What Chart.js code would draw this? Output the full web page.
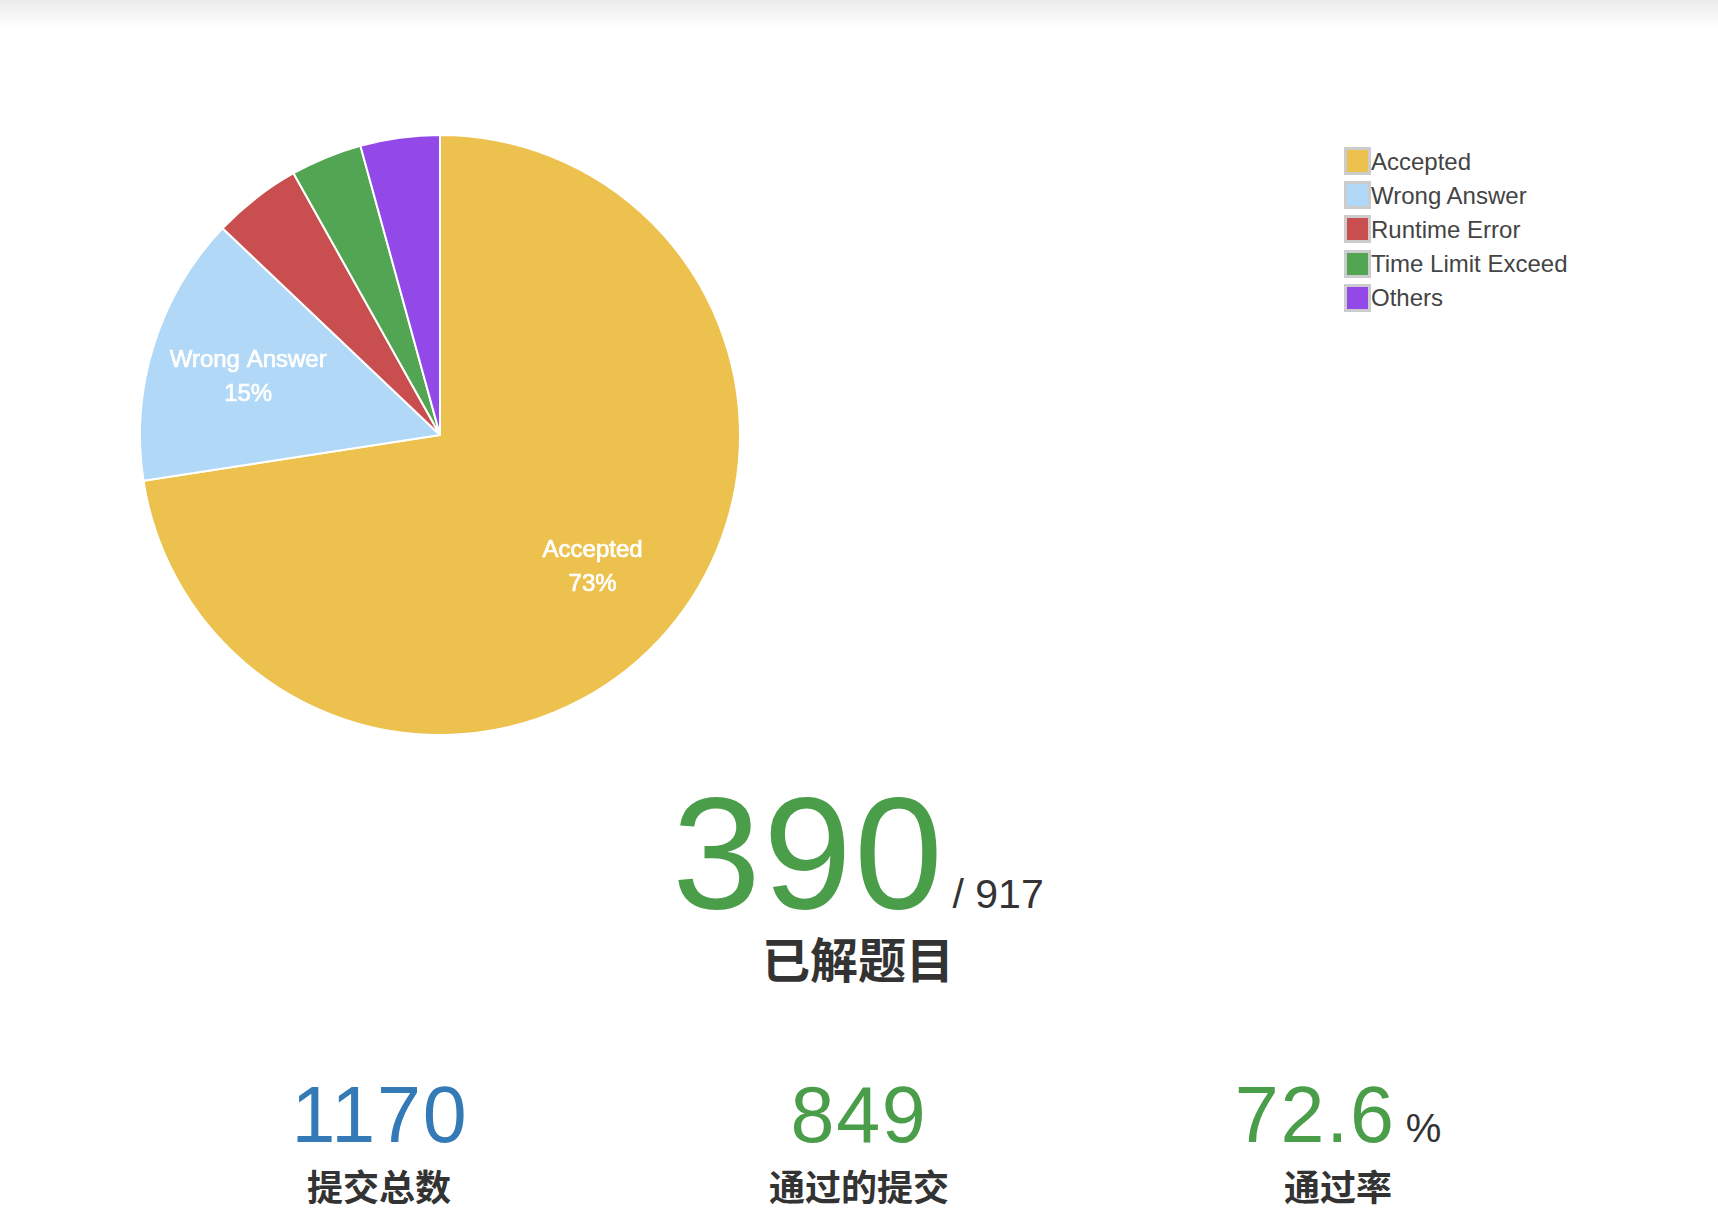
<!DOCTYPE html>
<html>
<head>
<meta charset="utf-8">
<script src="https://cdn.jsdelivr.net/npm/chart.js@4.4.0/dist/chart.umd.min.js"></script>
<style>
html,body{margin:0;padding:0;background:#fff;width:1718px;height:1232px;overflow:hidden;font-family:"Liberation Sans",Arial,Helvetica,sans-serif;}
#topShade{position:absolute;left:0;top:0;width:1718px;height:28px;background:linear-gradient(#ebebeb,#ffffff);}
#pieWrap{position:absolute;left:0;top:134px;width:880px;height:602px;}
.lgBox{position:absolute;left:1344px;width:21px;height:22px;border:3px solid #cccccc;}
.lgText{position:absolute;left:1371px;font-size:24px;line-height:28px;color:#444;white-space:nowrap;}
.center{position:absolute;transform:translateX(-50%);white-space:nowrap;text-align:center;}
.big{font-size:159px;line-height:1;color:#4a9e4a;}
.cjk{font-family:"Noto Sans CJK SC",sans-serif;font-weight:bold;color:#333;line-height:1;}
.num{font-size:79px;line-height:1;letter-spacing:1.8px;}
.num span{font-size:40px;color:#333;letter-spacing:0;margin-left:10px;}
</style>
</head>
<body>
<div id="topShade"></div>
<div id="pieWrap"><canvas id="pie" width="880" height="602"></canvas></div>
<div id="legend"></div>

<div class="center big" style="left:858px;top:774px;"><span id="solvedNum" style="letter-spacing:2.5px;margin-right:-4px;"></span><span id="totalProb" style="font-size:41px;color:#333;"></span></div>
<div class="center cjk" id="solvedLabel" style="left:858px;top:933px;font-size:48px;"></div>

<div class="center num" id="subNum" style="left:380px;top:1075px;color:#337ab7;"></div>
<div class="center cjk" id="subLabel" style="left:379px;top:1167px;font-size:36px;"></div>
<div class="center num" id="accNum" style="left:859px;top:1075px;color:#4a9e4a;"></div>
<div class="center cjk" id="accLabel" style="left:859px;top:1167px;font-size:36px;"></div>
<div class="center num" id="rateNum" style="left:1338px;top:1075px;color:#4a9e4a;"></div>
<div class="center cjk" id="rateLabel" style="left:1338px;top:1167px;font-size:36px;"></div>

<script>
// ---- data ----
const categories = ["Accepted", "Wrong Answer", "Runtime Error", "Time Limit Exceed", "Others"];
const values = [849, 170, 56, 45, 50];
const colors = ["#ECC14D", "#B1D8F6", "#C84E4F", "#52A653", "#9249E8"];
const statNumbers = ["390", "917", "1170", "849", "72.6"];
const statLabels = ["已解题目", "提交总数", "通过的提交", "通过率"];

// ---- stats text ----
document.getElementById('solvedNum').textContent = statNumbers[0];
document.getElementById('totalProb').textContent = " / " + statNumbers[1];
document.getElementById('solvedLabel').textContent = statLabels[0];
document.getElementById('subNum').textContent = statNumbers[2];
document.getElementById('subLabel').textContent = statLabels[1];
document.getElementById('accNum').textContent = statNumbers[3];
document.getElementById('accLabel').textContent = statLabels[2];
document.getElementById('rateNum').innerHTML = statNumbers[4] + '<span>%</span>';
document.getElementById('rateLabel').textContent = statLabels[3];

// ---- legend ----
const lg = document.getElementById('legend');
categories.forEach((c, i) => {
  const top = 147 + i * 34.2;
  const b = document.createElement('div');
  b.className = 'lgBox'; b.style.top = top + 'px'; b.style.background = colors[i];
  const t = document.createElement('div');
  t.className = 'lgText'; t.style.top = (top + 0.5) + 'px'; t.textContent = c;
  lg.appendChild(b); lg.appendChild(t);
});

// ---- in-slice labels ----
const sliceLabels = {
  id: 'sliceLabels',
  afterDatasetsDraw(chart) {
    const ctx = chart.ctx;
    const meta = chart.getDatasetMeta(0);
    const total = values.reduce((a, b) => a + b, 0);
    meta.data.forEach((arc, i) => {
      const pct = values[i] / total * 100;
      if (pct < 10) return;
      const p = arc.getProps(['x', 'y', 'startAngle', 'endAngle', 'outerRadius'], true);
      const mid = (p.startAngle + p.endAngle) / 2;
      const r = p.outerRadius * 0.67;
      const cx = p.x + Math.cos(mid) * r, cy = p.y + Math.sin(mid) * r + 2;
      ctx.save();
      ctx.fillStyle = '#ffffff';
      ctx.strokeStyle = '#ffffff';
      ctx.lineWidth = 0.7;
      ctx.font = '24px "Liberation Sans", Arial, sans-serif';
      ctx.textAlign = 'center';
      ctx.textBaseline = 'middle';
      const lines = [categories[i], Math.round(pct) + '%'];
      lines.forEach((s, k) => {
        const yy = cy + (k === 0 ? -17 : 17);
        ctx.fillText(s, cx, yy);
        ctx.strokeText(s, cx, yy);
      });
      ctx.restore();
    });
  }
};

new Chart(document.getElementById('pie'), {
  type: 'pie',
  data: {
    labels: categories,
    datasets: [{
      data: values,
      backgroundColor: colors,
      borderColor: '#ffffff',
      borderWidth: 2
    }]
  },
  options: {
    responsive: false,
    devicePixelRatio: 1,
    animation: false,
    layout: { padding: 0 },
    plugins: { legend: { display: false }, tooltip: { enabled: false } }
  },
  plugins: [sliceLabels]
});
</script>
</body>
</html>
